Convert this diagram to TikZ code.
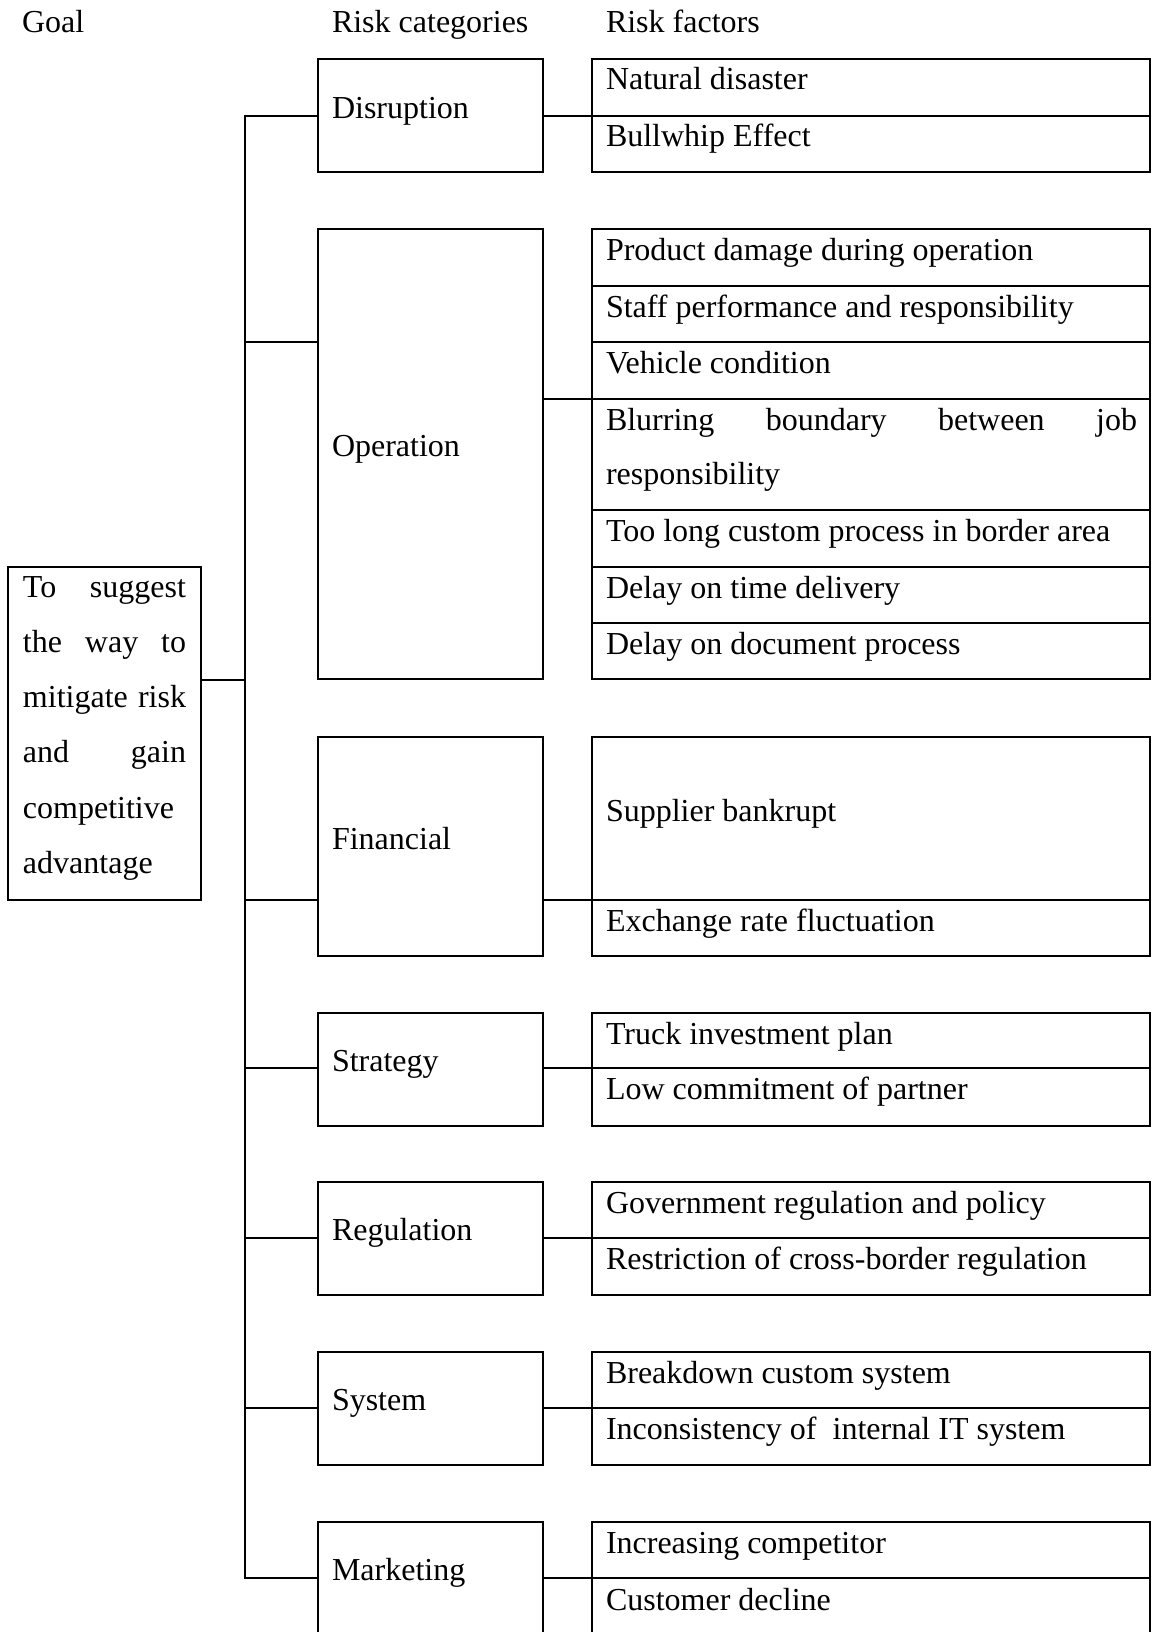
\documentclass[tikz,border=0pt]{standalone}
\usepackage{fontspec}
\setmainfont{Liberation Serif}
\usetikzlibrary{fit}
\begin{document}
\begin{tikzpicture}[x=1pt, y=-1pt,
  box/.style={draw, rectangle, inner sep=0pt, outer sep=0pt, line width=1.6pt},
  lbl/.style={anchor=base west, inner sep=0pt, outer sep=0pt, font=\fontsize{32}{38}\selectfont},
  link/.style={line width=1.6pt, line cap=rect}]
\useasboundingbox (0,0) rectangle (1152,1632);
\fill[white] (0,0) rectangle (1152,1632);
\clip (0,0) rectangle (1152,1632);

% column headings
\node[lbl] (hgoal) at (22,33) {Goal};
\node[lbl] (hcat) at (332,33) {Risk categories};
\node[lbl] (hfac) at (606,33) {Risk factors};

% goal
\node[box, fit={(8,567) (201,900)}] (goal) {};
\node[lbl] (g1) at (23,597) {\makebox[163pt][l]{To\hfill suggest}};
\node[lbl] (g2) at (23,652) {\makebox[163pt][l]{the\hfill way\hfill to}};
\node[lbl] (g3) at (23,707) {\makebox[163pt][l]{mitigate\hfill risk}};
\node[lbl] (g4) at (23,762) {\makebox[163pt][l]{and\hfill gain}};
\node[lbl] (g5) at (23,818) {competitive};
\node[lbl] (g6) at (23,873) {advantage};

% risk categories
\node[box, fit={(318,59) (543,172)}] (dis) {};
\node[box, fit={(318,229) (543,679)}] (ope) {};
\node[box, fit={(318,737) (543,956)}] (fin) {};
\node[box, fit={(318,1013) (543,1126)}] (str) {};
\node[box, fit={(318,1182) (543,1295)}] (reg) {};
\node[box, fit={(318,1352) (543,1465)}] (sys) {};
\node[box, fit={(318,1522) (543,1645)}] (mkt) {};
\node[lbl] (tdis) at (332,119) {Disruption};
\node[lbl] (tope) at (332,456) {Operation};
\node[lbl] (tfin) at (332,849) {Financial};
\node[lbl] (tstr) at (332,1071) {Strategy};
\node[lbl] (treg) at (332,1240) {Regulation};
\node[lbl] (tsys) at (332,1410) {System};
\node[lbl] (tmkt) at (332,1580) {Marketing};

% risk factors: disruption
\node[box, fit={(592,59) (1150,116)}] (f11) {};
\node[box, fit={(592,116) (1150,172)}] (f12) {};
\node[lbl] (t11) at (606,90) {Natural disaster};
\node[lbl] (t12) at (606,147) {Bullwhip Effect};

% risk factors: operation
\node[box, fit={(592,229) (1150,286)}] (f21) {};
\node[box, fit={(592,286) (1150,342)}] (f22) {};
\node[box, fit={(592,342) (1150,399)}] (f23) {};
\node[box, fit={(592,399) (1150,510)}] (f24) {};
\node[box, fit={(592,510) (1150,567)}] (f25) {};
\node[box, fit={(592,567) (1150,623)}] (f26) {};
\node[box, fit={(592,623) (1150,679)}] (f27) {};
\node[lbl] (t21) at (606,260) {Product damage during operation};
\node[lbl] (t22) at (606,317) {Staff performance and responsibility};
\node[lbl] (t23) at (606,373) {Vehicle condition};
\node[lbl] (t24a) at (606,430) {\makebox[531pt][l]{Blurring\hfill boundary\hfill between\hfill job}};
\node[lbl] (t24b) at (606,484) {responsibility};
\node[lbl] (t25) at (606,541) {Too long custom process in border area};
\node[lbl] (t26) at (606,598) {Delay on time delivery};
\node[lbl] (t27) at (606,654) {Delay on document process};

% risk factors: financial
\node[box, fit={(592,737) (1150,900)}] (f31) {};
\node[box, fit={(592,900) (1150,956)}] (f32) {};
\node[lbl] (t31) at (606,821) {Supplier bankrupt};
\node[lbl] (t32) at (606,931) {Exchange rate fluctuation};

% risk factors: strategy
\node[box, fit={(592,1013) (1150,1068)}] (f41) {};
\node[box, fit={(592,1068) (1150,1126)}] (f42) {};
\node[lbl] (t41) at (606,1044) {Truck investment plan};
\node[lbl] (t42) at (606,1099) {Low commitment of partner};

% risk factors: regulation
\node[box, fit={(592,1182) (1150,1238)}] (f51) {};
\node[box, fit={(592,1238) (1150,1295)}] (f52) {};
\node[lbl] (t51) at (606,1213) {Government regulation and policy};
\node[lbl] (t52) at (606,1269) {Restriction of cross-border regulation};

% risk factors: system
\node[box, fit={(592,1352) (1150,1408)}] (f61) {};
\node[box, fit={(592,1408) (1150,1465)}] (f62) {};
\node[lbl] (t61) at (606,1383) {Breakdown custom system};
\node[lbl] (t62) at (606,1439) {Inconsistency of\ \ internal IT system};

% risk factors: marketing
\node[box, fit={(592,1522) (1150,1578)}] (f71) {};
\node[box, fit={(592,1578) (1150,1645)}] (f72) {};
\node[lbl] (t71) at (606,1553) {Increasing competitor};
\node[lbl] (t72) at (606,1610) {Customer decline};

% trunk and junctions
\coordinate (jdis) at (245,116);
\coordinate (jope) at (245,342);
\coordinate (jgoal) at (245,680);
\coordinate (jfin) at (245,900);
\coordinate (jstr) at (245,1068);
\coordinate (jreg) at (245,1238);
\coordinate (jsys) at (245,1408);
\coordinate (jmkt) at (245,1578);
\draw[link] (jdis) -- (jmkt);
\draw[link] (goal.east |- jgoal) -- (jgoal);
\draw[link] (jdis) -- (dis.west |- jdis);
\draw[link] (jope) -- (ope.west |- jope);
\draw[link] (jfin) -- (fin.west |- jfin);
\draw[link] (jstr) -- (str.west |- jstr);
\draw[link] (jreg) -- (reg.west |- jreg);
\draw[link] (jsys) -- (sys.west |- jsys);
\draw[link] (jmkt) -- (mkt.west |- jmkt);

% category to factor links
\draw[link] (dis.east |- f11.south west) -- (f11.south west);
\draw[link] (ope.east |- f23.south west) -- (f23.south west);
\draw[link] (fin.east |- f31.south west) -- (f31.south west);
\draw[link] (str.east |- f41.south west) -- (f41.south west);
\draw[link] (reg.east |- f51.south west) -- (f51.south west);
\draw[link] (sys.east |- f61.south west) -- (f61.south west);
\draw[link] (mkt.east |- f71.south west) -- (f71.south west);
\end{tikzpicture}
\end{document}
